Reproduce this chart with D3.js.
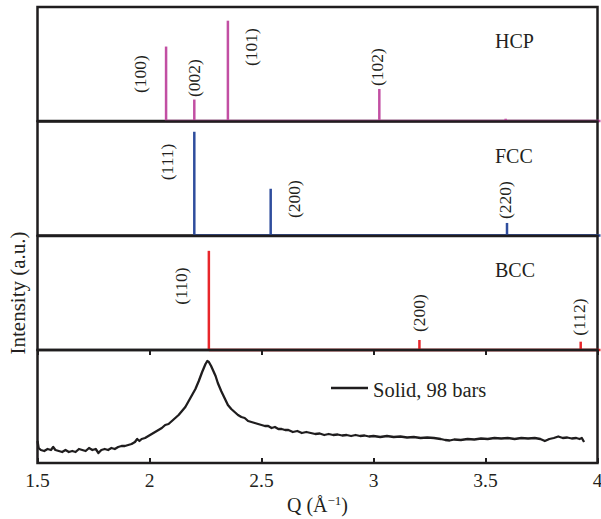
<!DOCTYPE html>
<html lang="en">
<head>
  <meta charset="UTF-8">
  <title>Diffraction peaks vs measured intensity</title>
  <script src="https://d3js.org/d3.v7.min.js"></script>
  <style>
    body { margin: 0; background: #fff; }
    svg { display: block; background: #fff; }
    text { font-family: "Liberation Serif", "Times New Roman", serif; fill: #231f20; }
  </style>
</head>
<body>
<svg width="601" height="519"></svg>
<script>
  // --- data ---
  const xDomain = [1.5, 4];
  const xTicks = [1.5, 2, 2.5, 3, 3.5, 4];
  const phaseNames = ["HCP", "FCC", "BCC"];
  const phaseColors = ["#c24fa3", "#2f4d9d", "#e8262b"];

  const hcpQ = [2.074, 2.20, 2.35, 3.026, 3.59];
  const hcpI = [0.653, 0.188, 0.88, 0.281, 0.02];
  const hcpHkl = ["(100)", "(002)", "(101)", "(102)", ""];

  const fccQ = [2.20, 2.541, 3.596];
  const fccI = [0.91, 0.41, 0.11];
  const fccHkl = ["(111)", "(200)", "(220)"];

  const bccQ = [2.265, 3.205, 3.925];
  const bccI = [0.87, 0.088, 0.073];
  const bccHkl = ["(110)", "(200)", "(112)"];

  const solidQ = [1.500, 1.505, 1.515, 1.530, 1.545, 1.560, 1.570, 1.580, 1.595, 1.610,
    1.625, 1.640, 1.655, 1.670, 1.685, 1.700, 1.715, 1.730, 1.745, 1.760,
    1.772, 1.785, 1.800, 1.815, 1.830, 1.845, 1.860, 1.875, 1.890, 1.905,
    1.920, 1.935, 1.945, 1.955, 1.965, 1.980, 1.995, 2.010, 2.025, 2.040,
    2.055, 2.070, 2.085, 2.100, 2.115, 2.130, 2.145, 2.160, 2.175, 2.190,
    2.205, 2.220, 2.235, 2.250, 2.258, 2.265, 2.275, 2.285, 2.295, 2.305,
    2.320, 2.335, 2.350, 2.365, 2.380, 2.395, 2.410, 2.425, 2.440, 2.455,
    2.470, 2.485, 2.500, 2.515, 2.530, 2.545, 2.560, 2.575, 2.590, 2.605,
    2.620, 2.640, 2.660, 2.680, 2.700, 2.720, 2.740, 2.760, 2.780, 2.800,
    2.820, 2.840, 2.860, 2.880, 2.900, 2.920, 2.940, 2.960, 2.980, 3.000,
    3.030, 3.060, 3.090, 3.120, 3.150, 3.180, 3.210, 3.240, 3.270, 3.300,
    3.320, 3.340, 3.360, 3.390, 3.420, 3.450, 3.480, 3.510, 3.540, 3.570,
    3.600, 3.630, 3.660, 3.690, 3.720, 3.745, 3.765, 3.785, 3.805, 3.825,
    3.845, 3.865, 3.885, 3.905, 3.920, 3.930, 3.940];
  const solidI = [22, 15, 13, 12, 14, 13, 16, 13, 12, 11,
    13, 11, 12, 11, 14, 13, 12, 15, 13, 14,
    10, 13, 14, 13, 15, 14, 16, 17, 17, 18,
    19, 21, 24, 22, 24, 25, 27, 29, 31, 33,
    35, 38, 39, 42, 45, 48, 52, 56, 62, 68,
    74, 82, 91, 99, 102, 101, 97, 92, 87, 80,
    72, 65, 58, 54, 51, 48, 46, 45, 42, 41,
    40, 39, 38, 37, 37, 35, 36, 34, 34, 33,
    33, 31, 32, 30, 31, 30, 29, 29.5, 28, 29,
    28, 28.5, 27.5, 28, 27, 28, 27, 27.5, 26.5, 27,
    26, 27, 26, 26.5, 25.5, 26, 25, 25.5, 25, 24,
    23, 22.5, 23.5, 23, 24, 23.5, 24.5, 24, 25, 24.5,
    25, 24, 25, 24.5, 25, 24, 22, 24, 25, 26.5,
    25, 25.5, 24.5, 25, 24, 25, 21];

  // --- layout ---
  const svg = d3.select("svg");
  const left = 37.5, right = 597.5;
  const panelTops = [7, 121.5, 236, 350];
  const panelH = 114;
  const ink = "#1f1d1e";

  // label offsets: [dx from peak, y center from panel top]
  const hkOffsets = [
    [[-26, 67], [0, 71], [23, 40], [-2, 60], [0, 0]],
    [[-27, 40.5], [23, 77.5], [-2, 78.5]],
    [[-28, 50], [0, 77], [-2, 81]]
  ];

  const x = d3.scaleLinear().domain(xDomain).range([left, right]);

  const phases = [
    {q: hcpQ, i: hcpI, hkl: hcpHkl},
    {q: fccQ, i: fccI, hkl: fccHkl},
    {q: bccQ, i: bccI, hkl: bccHkl}
  ];

  phases.forEach((p, k) => {
    const top = panelTops[k];
    const y = d3.scaleLinear().domain([0, 1]).range([top + panelH, top]);
    const g = svg.append("g");

    g.append("rect")
      .attr("x", left).attr("y", top)
      .attr("width", right - left).attr("height", panelH)
      .attr("fill", "none").attr("stroke", ink).attr("stroke-width", 2.5);

    // colored baseline from first peak onward
    g.append("line")
      .attr("x1", x(d3.min(p.q))).attr("x2", x(xDomain[1]) + 3)
      .attr("y1", y(0)).attr("y2", y(0))
      .attr("stroke", phaseColors[k]).attr("stroke-width", 2.5);

    g.selectAll(".peak")
      .data(p.q)
      .enter().append("line")
      .attr("class", "peak")
      .attr("x1", d => x(d)).attr("x2", d => x(d))
      .attr("y1", y(0)).attr("y2", (d, j) => y(p.i[j]))
      .attr("stroke", phaseColors[k]).attr("stroke-width", 2.5);

    g.selectAll(".hkl")
      .data(p.q)
      .enter().append("text")
      .attr("class", "hkl")
      .attr("transform", (d, j) =>
        `translate(${x(d) + hkOffsets[k][j][0]},${top + hkOffsets[k][j][1]}) rotate(-90)`)
      .attr("text-anchor", "middle")
      .attr("dominant-baseline", "central")
      .style("font-size", "17.5px")
      .text((d, j) => p.hkl[j]);

    g.append("text")
      .attr("x", 495).attr("y", top + 41)
      .style("font-size", "20px")
      .text(phaseNames[k]);
  });

  // bottom panel: measured solid pattern
  const bTop = panelTops[3];
  const bH = 113;
  const yb = d3.scaleLinear().domain([0, 113]).range([bTop + bH, bTop]);
  const bottom = svg.append("g");

  bottom.append("rect")
    .attr("x", left).attr("y", bTop)
    .attr("width", right - left).attr("height", bH)
    .attr("fill", "none").attr("stroke", ink).attr("stroke-width", 2.5);

  const solid = solidQ.map((q, j) => [q, solidI[j]]);
  bottom.append("path")
    .datum(solid)
    .attr("fill", "none")
    .attr("stroke", ink)
    .attr("stroke-width", 2.3)
    .attr("stroke-linejoin", "round")
    .attr("d", d3.line().x(d => x(d[0])).y(d => yb(d[1])));

  // inward ticks, bottom and top of the last panel
  bottom.append("g")
    .attr("transform", `translate(0,${bTop + bH})`)
    .call(d3.axisBottom(x).tickValues(xTicks).tickSize(-5).tickFormat(""))
    .call(a => a.select(".domain").remove())
    .selectAll("line").attr("stroke", ink).attr("stroke-width", 2);
  bottom.append("g")
    .attr("transform", `translate(0,${bTop})`)
    .call(d3.axisTop(x).tickValues(xTicks).tickSize(-5).tickFormat(""))
    .call(a => a.select(".domain").remove())
    .selectAll("line").attr("stroke", ink).attr("stroke-width", 2);

  // tick labels
  svg.selectAll(".xlab")
    .data(xTicks)
    .enter().append("text")
    .attr("class", "xlab")
    .attr("x", d => x(d)).attr("y", 487)
    .attr("text-anchor", "middle")
    .style("font-size", "19.5px")
    .text(d => d);

  // legend
  bottom.append("line")
    .attr("x1", 331).attr("x2", 368).attr("y1", 388).attr("y2", 388)
    .attr("stroke", ink).attr("stroke-width", 2.3);
  bottom.append("text")
    .attr("x", 373).attr("y", 397)
    .style("font-size", "20.5px")
    .text("Solid, 98 bars");

  // axis titles
  const xt = svg.append("text")
    .attr("x", (left + right) / 2).attr("y", 512)
    .attr("text-anchor", "middle")
    .style("font-size", "20px");
  xt.append("tspan").text("Q (Å");
  xt.append("tspan").attr("dy", -7).style("font-size", "13px").text("−1");
  xt.append("tspan").attr("dy", 7).text(")");

  svg.append("text")
    .attr("transform", "translate(18,293) rotate(-90)")
    .attr("text-anchor", "middle")
    .attr("dominant-baseline", "central")
    .style("font-size", "21px")
    .text("Intensity (a.u.)");
</script>
</body>
</html>
